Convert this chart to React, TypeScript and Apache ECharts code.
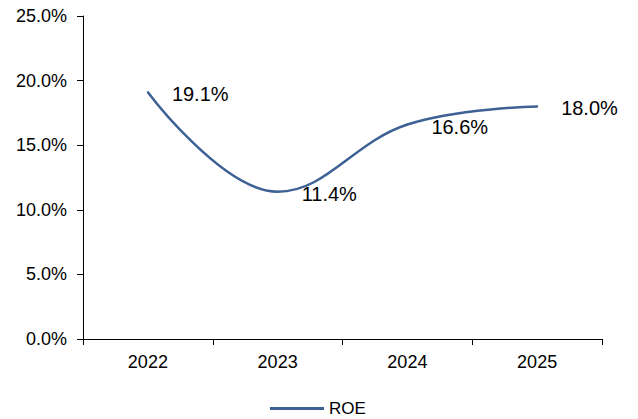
import React, { useEffect, useRef } from "react";
import * as echarts from "echarts";

const years = ["2022", "2023", "2024", "2025"];
const roe = [19.1, 11.4, 16.6, 18.0];
const yTicks = [0, 5, 10, 15, 20, 25];

export default function App() {
  const ref = useRef<HTMLDivElement>(null);
  useEffect(() => {
    const chart = echarts.init(ref.current!, null, { renderer: "svg" });
    const font = "Arial, 'Liberation Sans', sans-serif";
    chart.setOption({
      animation: false,
      backgroundColor: "#ffffff",
      grid: { left: 83, right: 36, top: 16, bottom: 80, containLabel: false },
      legend: {
        data: [{ name: "ROE", icon: "rect", itemStyle: { color: "#3D6194", opacity: 1 } }],
        top: 395,
        left: 265,
        itemWidth: 54,
        itemHeight: 3,
        itemGap: 10,
        textStyle: { fontFamily: font, fontSize: 17, color: "#000" },
      },
      xAxis: {
        type: "category",
        data: years,
        boundaryGap: true,
        axisLine: { lineStyle: { color: "#000", width: 1 } },
        axisTick: { show: true, length: 6, lineStyle: { color: "#000" } },
        axisLabel: { color: "#000", fontFamily: font, fontSize: 18, margin: 14 },
        splitLine: { show: false },
      },
      yAxis: {
        type: "value",
        min: yTicks[0],
        max: yTicks[yTicks.length - 1],
        interval: 5,
        axisLine: { show: true, lineStyle: { color: "#000", width: 1 } },
        axisTick: { show: true, length: 6, lineStyle: { color: "#000" } },
        axisLabel: {
          color: "#000",
          fontFamily: font,
          fontSize: 18,
          margin: 16,
          formatter: (v: number) => v.toFixed(1) + "%",
        },
        splitLine: { show: false },
      },
      series: [
        {
          name: "ROE",
          type: "line",
          data: roe,
          smooth: 0.4,
          symbol: "circle",
          symbolSize: 2,
          showSymbol: true,
          lineStyle: { color: "#3D6194", width: 2.5 },
          itemStyle: { color: "#3D6194", borderWidth: 0 },
          label: {
            show: true,
            position: "right",
            distance: 23,
            offset: [0, 2],
            color: "#000",
            fontFamily: font,
            fontSize: 20,
            formatter: (p: any) => Number(p.value).toFixed(1) + "%",
          },
        },
      ],
    });
    return () => chart.dispose();
  }, []);
  return <div ref={ref} style={{ width: 638, height: 419, position: "absolute", left: 0, top: 0 }} />;
}
